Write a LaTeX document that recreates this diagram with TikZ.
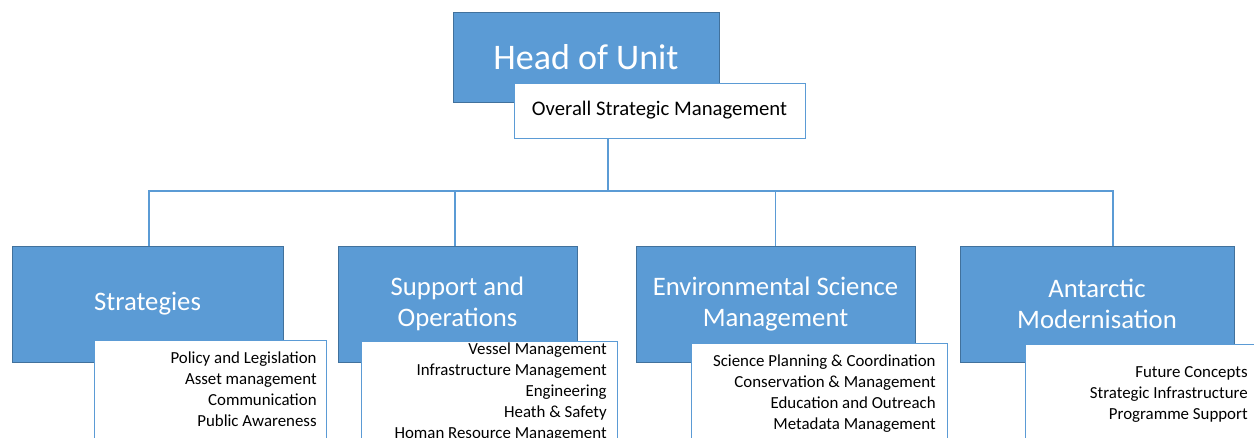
\documentclass[tikz,border=0pt]{standalone}
\usepackage{fontspec}
\setmainfont{Carlito}
\usetikzlibrary{positioning,calc}
\definecolor{unitblue}{HTML}{5B9BD5}
\definecolor{unitedge}{HTML}{41719C}

\begin{document}
\begin{tikzpicture}[x=0.02cm, y=-0.02cm,
    head/.style={draw=unitedge, fill=unitblue, text=white, align=center, inner sep=0pt},
    duty/.style={draw=unitblue, fill=white, inner sep=0pt, anchor=north west},
    list/.style={align=right, anchor=north east, inner sep=0pt,
                 font=\fontsize{9.6}{11.95}\selectfont},
    link/.style={draw=unitblue, line width=1pt}]
    % one unit = one pixel of the reference
    \def\u{0.02cm}
    \useasboundingbox (0,0) rectangle (1254,438);
    \clip (0,0) rectangle (1254,438);

    % top level
    \node[head, minimum width=266*\u, minimum height=90*\u,
          font=\fontsize{20.5}{24}\selectfont] (hou) at (586,57) {Head of Unit};
    \node[draw=unitblue, fill=white, minimum width=291*\u, minimum height=55*\u,
          font=\fontsize{11.8}{15}\selectfont] (osm) at (659.5,110.5) {Overall Strategic Management};

    % second level
    \begin{scope}[every node/.append style={minimum height=116*\u,
                  font=\fontsize{15.2}{17.8}\selectfont}]
        \node[head, minimum width=271*\u] (str) at (147.5,304) {Strategies};
        \node[head, minimum width=239*\u] (sup) at (457.5,304) {Support and\\Operations};
        \node[head, minimum width=279*\u] (env) at (775.5,304) {Environmental Science\\Management};
        \node[head, minimum width=274*\u] (ant) at (1097,304) {Antarctic\\Modernisation};
    \end{scope}

    % duty boxes
    \node[duty, minimum width=232*\u, minimum height=110*\u] (strD) at (94,340) {};
    \node[duty, minimum width=256*\u, minimum height=110*\u] (supD) at (361,341) {};
    \node[duty, minimum width=256*\u, minimum height=110*\u] (envD) at (691,343) {};
    \node[duty, minimum width=250*\u, minimum height=110*\u] (antD) at (1025,344) {};

    \node[list] (strL) at (317,351) {Policy and Legislation\\Asset management\\Communication\\Public Awareness};
    \node[list] (supL) at (607,342) {Vessel Management\\Infrastructure Management\\Engineering\\Heath \& Safety\\Homan Resource Management};
    \node[list] (envL) at (936,354) {Science Planning \& Coordination\\Conservation \& Management\\Education and Outreach\\Metadata Management};
    \node[list] (antL) at (1248,366) {Future Concepts\\Strategic Infrastructure\\Programme Support};

    % connectors
    \coordinate (bus) at (608,191);
    \draw[link] (osm.south -| bus) -- (bus);
    \draw[link] ([xshift=1.5*\u]str.north) |- (bus) -| ([xshift=16*\u]ant.north);
    \draw[link] ([xshift=-2.5*\u]sup.north) -- ([xshift=-2.5*\u]sup.north |- bus);
    \draw[link] (env.north) -- (env.north |- bus);
\end{tikzpicture}
\end{document}
